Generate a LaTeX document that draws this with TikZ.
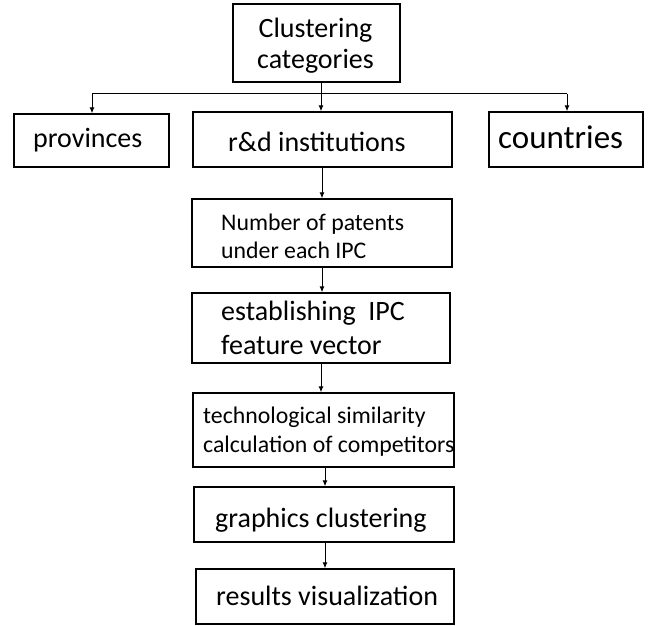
\documentclass[tikz,border=0pt]{standalone}
\usepackage{fontspec}
\setmainfont{Carlito}
\usetikzlibrary{arrows.meta}
\begin{document}
\begin{tikzpicture}[x=1pt,y=-1pt,
  box/.style={draw, line width=1.4pt, inner sep=0pt},
  txt/.style={anchor=base west, inner sep=0pt, font=\fontsize{28}{34}\selectfont},
  smalltxt/.style={anchor=base west, inner sep=0pt, font=\fontsize{23.8}{28}\selectfont},
  arr/.style={line width=1pt, -{Latex[length=6pt,width=5pt]}},
  ln/.style={line width=1pt}]
\useasboundingbox (0,0) rectangle (649,626);
% boxes
\node[box, minimum width=167pt, minimum height=78pt] (top) at (316.5,43) {};
\node[box, minimum width=155pt, minimum height=53pt] (prov) at (91.5,140.5) {};
\node[box, minimum width=259pt, minimum height=55pt] (rd) at (322.5,139.5) {};
\node[box, minimum width=154pt, minimum height=55pt] (ctry) at (566,139.5) {};
\node[box, minimum width=260pt, minimum height=68pt] (num) at (322,233) {};
\node[box, minimum width=258pt, minimum height=70pt] (est) at (321,328) {};
\node[box, minimum width=261pt, minimum height=74pt] (tech) at (323.5,430) {};
\node[box, minimum width=260pt, minimum height=55pt] (gra) at (324,514.5) {};
\node[box, minimum width=258pt, minimum height=55pt] (res) at (325,596.5) {};
% texts
\node[txt, anchor=base] (t1) at (315.5,38) {Clustering};
\node[txt, anchor=base] (t2) at (315.5,69) {categories};
\node[txt] (t3) at (33,148) {provinces};
\node[txt] (t4) at (228,151) {r\&d institutions};
\node[txt, font=\fontsize{33}{40}\selectfont] (t5) at (498,149) {countries};
\node[smalltxt] (t6) at (221,230) {Number of patents};
\node[smalltxt] (t7) at (221,258) {under each IPC};
\node[txt] (t8) at (221,320) {establishing\ \ IPC};
\node[txt] (t9) at (221,354) {feature vector};
\node[smalltxt] (t10) at (203,423) {technological similarity};
\node[smalltxt] (t11) at (203,452) {calculation of competitors};
\node[txt] (t12) at (215,527) {graphics clustering};
\node[txt] (t13) at (216,605) {results visualization};
% connectors
\coordinate (split) at (top.south -| 321,0);
\coordinate (bus) at ([yshift=-11pt]split);
\draw[ln] (split) -- (bus);
\draw[ln] (bus -| 92,0) -- (bus -| 567,0);
\draw[arr] (bus -| 92,0) -- (prov.north -| 92,0);
\draw[arr] (bus) -- (rd.north -| bus);
\draw[arr] (bus -| 567,0) -- (ctry.north -| 567,0);
\draw[arr] (rd.south -| 322,0) -- (num.north -| 322,0);
\draw[arr] (num.south) -- (num.south |- est.north);
\draw[arr] (est.south) -- (est.south |- tech.north);
\draw[arr] (tech.south -| 325,0) -- (gra.north -| 325,0);
\draw[arr] (gra.south -| 325,0) -- (res.north -| 325,0);
\end{tikzpicture}
\end{document}
